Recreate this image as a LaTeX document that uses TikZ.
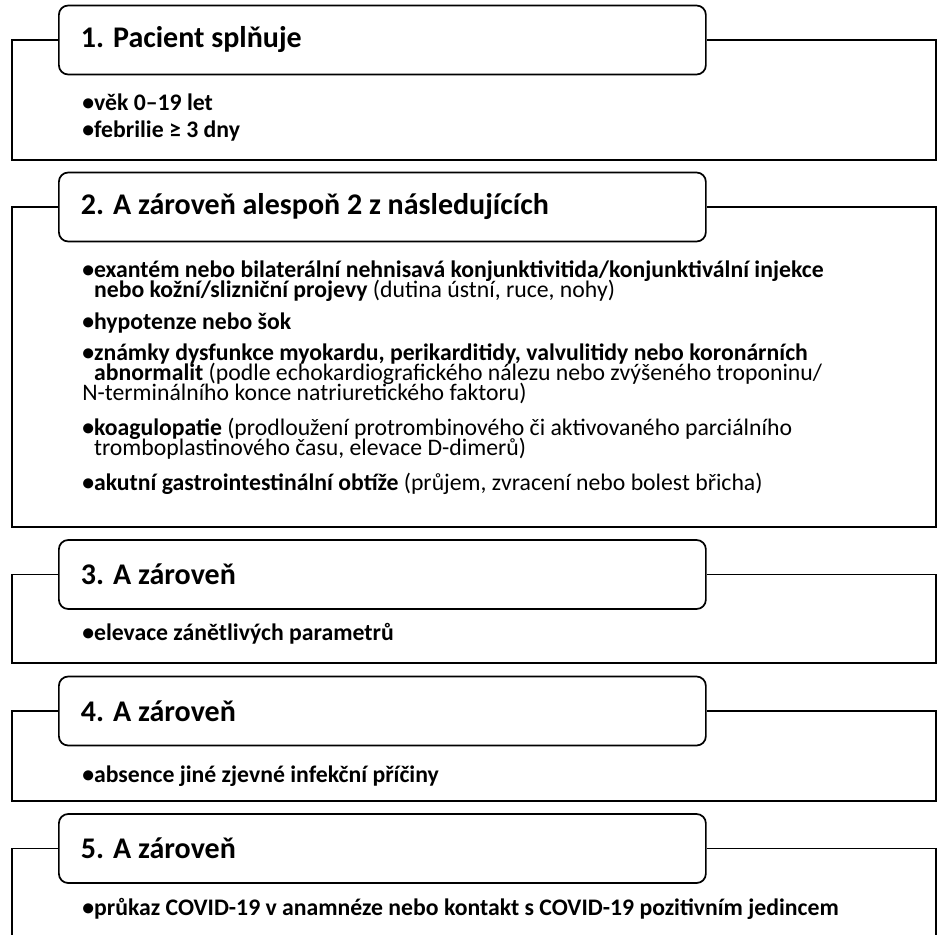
\documentclass[tikz,border=0pt]{standalone}
\usepackage{fontspec}
\setmainfont{Carlito}
\usetikzlibrary{positioning}

\tikzset{
  header/.style={draw, rounded corners=7pt, line width=1.3pt, anchor=west,
    minimum width=485.25pt, minimum height=51.75pt, text width=452.25pt,
    inner xsep=16.5pt, align=flush left, font=\fontsize{22.5}{26}\selectfont\bfseries},
  body/.style={anchor=base west, inner sep=0pt, align=left,
    font=\fontsize{17.8}{15}\selectfont},
  frame/.style={line width=1.2pt},
}
\newcommand{\bulind}{\phantom{\textbf{•}}}
\setlength{\lineskiplimit}{-30pt}

\begin{document}
\begin{tikzpicture}[x=0.75pt, y=-0.75pt]
    \useasboundingbox (0,0) rectangle (941,934);

    % Headers
    \node[header] (hdr1) at (58,40) {1. Pacient splňuje};
    \node[header] (hdr2) at (58,207) {2. A zároveň alespoň 2 z následujících};
    \node[header] (hdr3) at (58,574.5) {3. A zároveň};
    \node[header] (hdr4) at (58,711) {4. A zároveň};
    \node[header] (hdr5) at (58,848.5) {5. A zároveň};

    % Criteria (anchored at the baseline of the last line)
    \node[body] (txt1) at (82,138) {\textbf{•věk 0–19 let}\\[5.25pt]
      \textbf{•febrilie ≥ 3 dny}};
    \node[body] (txt2) at (82,490) {\textbf{•exantém nebo bilaterální nehnisavá konjunktivitida/konjunktivální injekce}\\
      \bulind\textbf{nebo kožní/slizniční projevy} (dutina ústní, ruce, nohy)\\[9pt]
      \textbf{•hypotenze nebo šok}\\[8.25pt]
      \textbf{•známky dysfunkce myokardu, perikarditidy, valvulitidy nebo koronárních}\\
      \bulind\textbf{abnormalit} (podle echokardiografického nálezu nebo zvýšeného troponinu/\\
      N-terminálního konce natriuretického faktoru)\\[11.25pt]
      \textbf{•koagulopatie} (prodloužení protrombinového či aktivovaného parciálního\\
      \bulind tromboplastinového času, elevace D-dimerů)\\[11.25pt]
      \textbf{•akutní gastrointestinální obtíže} (průjem, zvracení nebo bolest břicha)};
    \node[body] (txt3) at (82,640) {\textbf{•elevace zánětlivých parametrů}};
    \node[body] (txt4) at (82,782) {\textbf{•absence jiné zjevné infekční příčiny}};
    \node[body] (txt5) at (82,915) {\textbf{•průkaz COVID-19 v anamnéze nebo kontakt s COVID-19 pozitivním jedincem}};

    % Frames
    \coordinate (bl1) at (12,160);
    \coordinate (br1) at (936,160);
    \coordinate (bl2) at (12,527);
    \coordinate (br2) at (936,527);
    \coordinate (bl3) at (12,663);
    \coordinate (br3) at (936,663);
    \coordinate (bl4) at (12,801);
    \coordinate (br4) at (936,801);
    \coordinate (bl5) at (12,945);
    \coordinate (br5) at (936,945);
    \draw[frame] (hdr1.west) -| (bl1) -- (br1) |- (hdr1.east);
    \draw[frame] (hdr2.west) -| (bl2) -- (br2) |- (hdr2.east);
    \draw[frame] (hdr3.west) -| (bl3) -- (br3) |- (hdr3.east);
    \draw[frame] (hdr4.west) -| (bl4) -- (br4) |- (hdr4.east);
    \draw[frame] (hdr5.west) -| (bl5);
    \draw[frame] (hdr5.east) -| (br5);
\end{tikzpicture}
\end{document}
